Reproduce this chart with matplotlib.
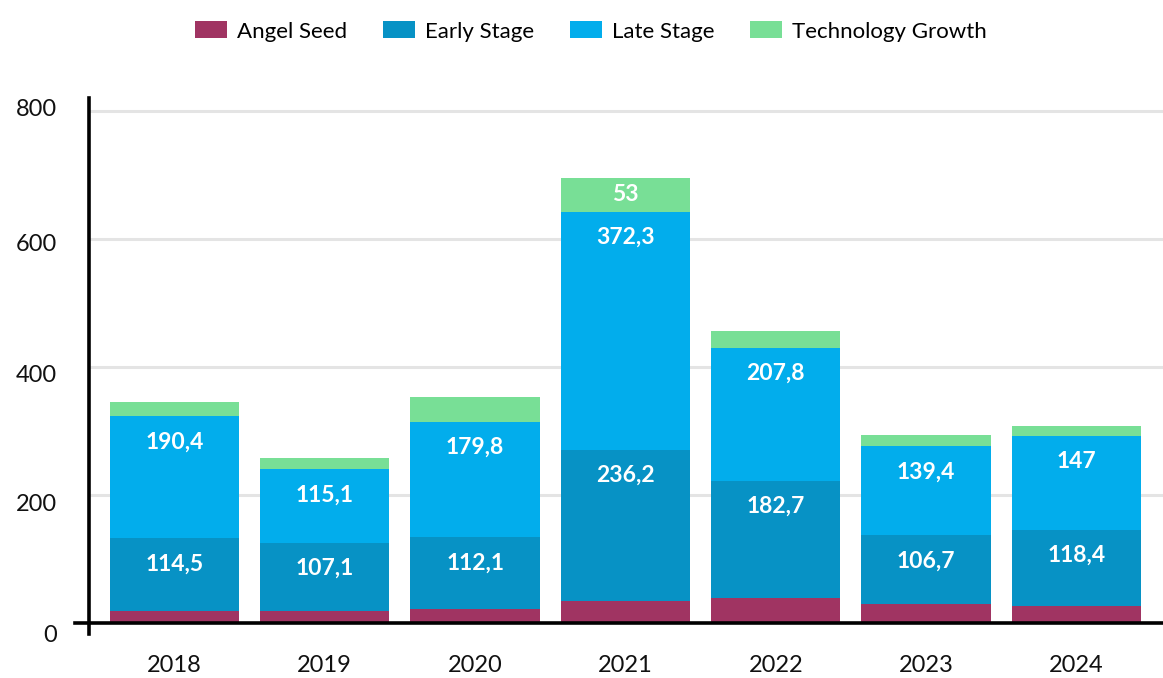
import matplotlib
matplotlib.use("Agg")
import matplotlib.pyplot as plt
from matplotlib.transforms import ScaledTranslation
from matplotlib.lines import Line2D
import numpy as np

years = ["2018", "2019", "2020", "2021", "2022", "2023", "2024"]
angel_seed = [18, 18, 22, 34, 39, 30, 27]
early_stage = [114.5, 107.1, 112.1, 236.2, 182.7, 106.7, 118.4]
late_stage = [190.4, 115.1, 179.8, 372.3, 207.8, 139.4, 147]
tech_growth = [22, 17, 39, 53, 27, 17, 16]
series_names = ["Angel Seed", "Early Stage", "Late Stage", "Technology Growth"]
colors = ["#A03462", "#0792C5", "#02ADEC", "#78DF96"]
yticks = [0, 200, 400, 600, 800]

plt.rcParams['font.family'] = ['Lato', 'DejaVu Sans']

fig = plt.figure(figsize=(11.63, 6.78), dpi=100)
ax = fig.add_axes([89/1163, 1 - 623/678, (1163-89)/1163, (623-98)/678])

x = np.arange(len(years))
width = 0.86
bottom = np.zeros(len(years))
series = [angel_seed, early_stage, late_stage, tech_growth]
for vals, name, col in zip(series, series_names, colors):
    vals = np.array(vals, dtype=float)
    ax.bar(x, vals, width, bottom=bottom, color=col, label=name, zorder=3)
    for xi, b, v in zip(x, bottom, vals):
        if v >= 50:
            top = b + v
            yl = top - min(40, v / 2)
            txt = f"{v:g}".replace('.', ',')
            ax.text(xi, yl, txt, ha='center', va='center', color='white',
                    fontsize=16.5, fontweight='bold', zorder=4)
    bottom += vals

ax.set_xlim(-0.569, 6.577)
ax.set_ylim(0, 820)
ax.set_yticks(yticks)
ax.set_xticks(x)
ax.set_xticklabels(years)
ax.grid(axis='y', color='#E4E4E4', linewidth=2.2, zorder=0)
ax.set_axisbelow(True)
for s in ax.spines.values():
    s.set_visible(False)
ax.tick_params(axis='both', length=0, labelsize=17, labelcolor='#111111')
ax.tick_params(axis='y', pad=23)
ax.tick_params(axis='x', pad=23)

# vertical offsets (px, downward) of y tick labels relative to their gridlines
label_offsets_px = [11, 7.5, 6.5, 4, -3]
for lab, dy in zip(ax.get_yticklabels(), label_offsets_px):
    lab.set_transform(lab.get_transform() + ScaledTranslation(0, -dy/100, fig.dpi_scale_trans))

# axis lines forming a cross at the origin
ax.add_line(Line2D([-14/1074, 1], [0, 0], transform=ax.transAxes,
                   color='black', lw=2.6, clip_on=False, zorder=5))
ax.add_line(Line2D([0, 0], [-11/525, 1], transform=ax.transAxes,
                   color='black', lw=2.6, clip_on=False, zorder=5))

fig.legend(loc='upper center', bbox_to_anchor=(0.508, 0.998), ncol=4, frameon=False,
           fontsize=16, handlelength=1.45, handleheight=0.8, columnspacing=1.6,
           handletextpad=0.45)

fig.savefig("out.png", dpi=100)
